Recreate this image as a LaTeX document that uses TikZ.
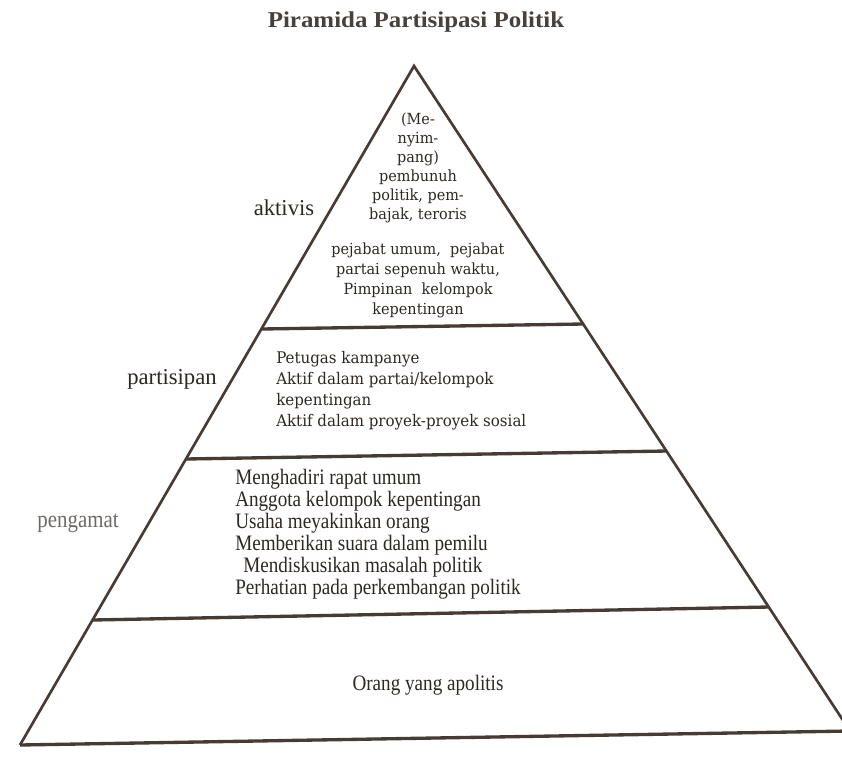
\documentclass[tikz,border=0pt]{standalone}
\usepackage{fontspec}
\setmainfont{Liberation Serif}
\newfontfamily\titlefam[FakeStretch=1.1]{Liberation Serif}
\newfontfamily\widefam[FakeStretch=0.94]{DejaVu Serif}
\newfontfamily\condfam[FakeStretch=0.87]{Liberation Serif}
\definecolor{ink}{RGB}{45,40,36}
\definecolor{titleink}{RGB}{72,64,58}
\definecolor{lineink}{RGB}{70,60,52}
\definecolor{fadedink}{RGB}{112,106,100}

\begin{document}
\begin{tikzpicture}[x=0.75pt,y=-0.75pt,
  edgeline/.style={draw=lineink,line width=2pt,line join=miter},
  tierline/.style={draw=lineink,line width=2.5pt},
  titletext/.style={text=titleink,inner sep=0,anchor=base,
    font=\titlefam\bfseries\fontsize{17}{20}\selectfont},
  tierlabel/.style={text=ink,inner sep=0,anchor=base,
    font=\fontsize{17}{20}\selectfont},
  toptext/.style={text=ink,inner sep=0,anchor=base,align=center,
    font=\widefam\fontsize{11.5}{14.25}\selectfont},
  midtext/.style={text=ink,inner sep=0,anchor=base west,align=left,
    font=\widefam\fontsize{12}{15.75}\selectfont},
  lowtext/.style={text=ink,inner sep=0,anchor=base west,align=left,
    font=\condfam\fontsize{16.5}{16.5}\selectfont}
]
\useasboundingbox (0,0) rectangle (842,757);
\fill[white] (0,0) rectangle (842,757);
\clip (0,0) rectangle (842,757);

% corners of the pyramid and ends of the tier lines
\coordinate (apex) at (414,66);
\coordinate (bl) at (20,745);
\coordinate (br) at (850,731);
\coordinate (t1l) at (262,329);
\coordinate (t1r) at (583,324);
\coordinate (t2l) at (186,459);
\coordinate (t2r) at (667,451);
\coordinate (t3l) at (93,620);
\coordinate (t3r) at (769,607);

% outline and tiers
\draw[edgeline] (bl) -- (apex) -- (br);
\draw[tierline] (t1l) -- (t1r);
\draw[tierline] (t2l) -- (t2r);
\draw[tierline] (t3l) -- (t3r);
\draw[tierline] (bl) -- (br);

% heading
\node[titletext] (title) at (416,27) {Piramida Partisipasi Politik};

% tier names
\node[tierlabel] (aktivis) at (284,215) {aktivis};
\node[tierlabel] (partisipan) at (172,384) {partisipan};
\node[tierlabel,text=fadedink,font=\condfam\fontsize{18}{20}\selectfont]
  (pengamat) at (78,527) {pengamat};

% top tier (blocks are placed by the baseline of their last line)
\node[toptext] (deviant) at (418,219)
  {(Me-\\nyim-\\pang)\\pembunuh\\politik, pem-\\bajak, teroris};
\node[toptext,font=\widefam\fontsize{11.5}{15}\selectfont] (officials) at (418,314)
  {pejabat umum,~ pejabat\\partai sepenuh waktu,\\Pimpinan~ kelompok\\kepentingan};

% second tier
\node[midtext] (campaign) at (276,426)
  {Petugas kampanye\\Aktif dalam partai/kelompok\\kepentingan\\Aktif dalam proyek-proyek sosial};

% third tier
\node[lowtext] (spectators) at (235,594)
  {Menghadiri rapat umum\\Anggota kelompok kepentingan\\Usaha meyakinkan orang\\Memberikan suara dalam pemilu\\\hspace*{6pt}Mendiskusikan masalah politik\\Perhatian pada perkembangan politik};

% base tier
\node[lowtext,anchor=base] (apolitical) at (428,690) {Orang yang apolitis};
\end{tikzpicture}
\end{document}
